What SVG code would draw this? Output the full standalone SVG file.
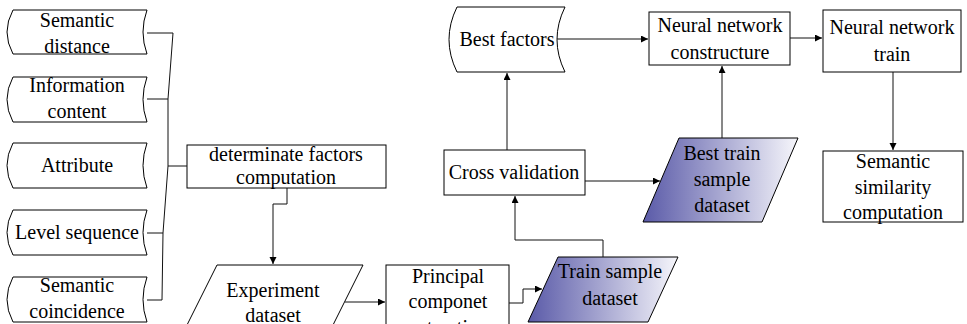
<svg xmlns="http://www.w3.org/2000/svg" width="967" height="324" viewBox="0 0 967 324">
<style>
.s{fill:#fff;stroke:#000;stroke-width:1}
.g{fill:url(#grad);stroke:#000;stroke-width:1}
.t{font-family:'Liberation Serif','Times New Roman',serif;font-size:20px;fill:#000;text-anchor:middle}
.c{fill:none;stroke:#111;stroke-width:1}
.a{fill:none;stroke:#111;stroke-width:1;marker-end:url(#arr)}
</style>
<defs>
<linearGradient id="grad" x1="0" y1="0" x2="1" y2="0">
<stop offset="0" stop-color="#5a5aa8"/>
<stop offset="1" stop-color="#f6f6fb"/>
</linearGradient>
<marker id="arr" markerUnits="userSpaceOnUse" markerWidth="8" markerHeight="8" refX="7" refY="3.5" orient="auto">
<path d="M0,0 L7,3.5 L0,7 z" fill="#000"/>
</marker>
</defs>
<rect width="967" height="324" fill="#fff"/>

<g id="semantic-distance">
<path class="s" d="M13,10 L147,10 Q139,32 147,54 L13,54 Q1,32 13,10 Z"/>
<text class="t" x="77" y="27">Semantic</text>
<text class="t" x="77" y="53">distance</text>
</g>
<g id="information-content">
<path class="s" d="M13,77 L147,77 Q139,99.5 147,122 L13,122 Q1,99.5 13,77 Z"/>
<text class="t" x="77" y="92">Information</text>
<text class="t" x="77" y="118">content</text>
</g>
<g id="attribute">
<path class="s" d="M13,143 L147,143 Q139,165.5 147,188 L13,188 Q1,165.5 13,143 Z"/>
<text class="t" x="77" y="172">Attribute</text>
</g>
<g id="level-sequence">
<path class="s" d="M13,210 L147,210 Q139,232.5 147,255 L13,255 Q1,232.5 13,210 Z"/>
<text class="t" x="77" y="239">Level sequence</text>
</g>
<g id="semantic-coincidence">
<path class="s" d="M13,277 L147,277 Q139,299.5 147,322 L13,322 Q1,299.5 13,277 Z"/>
<text class="t" x="77" y="292">Semantic</text>
<text class="t" x="77" y="318">coincidence</text>
</g>

<g id="determinate-factors">
<rect class="s" x="187" y="145" width="199" height="43"/>
<text class="t" x="286" y="161">determinate factors</text>
<text class="t" x="286" y="184">computation</text>
</g>

<g id="experiment-dataset">
<path class="s" d="M217,265 L363,265 L330,331 L184,331 Z"/>
<text class="t" x="273" y="297">Experiment</text>
<text class="t" x="273" y="322">dataset</text>
</g>

<g id="principal-componet">
<rect class="s" x="386" y="265" width="123" height="70"/>
<text class="t" x="448" y="283">Principal</text>
<text class="t" x="448" y="308">componet</text>
<text class="t" x="448" y="334">extraction</text>
</g>

<g id="train-sample-dataset">
<path class="g" d="M558,257 L678,257 L648,322 L528,322 Z"/>
<text class="t" x="610" y="278">Train sample</text>
<text class="t" x="610" y="305">dataset</text>
</g>

<g id="cross-validation">
<rect class="s" x="444" y="150" width="141" height="45"/>
<text class="t" x="514" y="179">Cross validation</text>
</g>

<g id="best-factors">
<path class="s" d="M457,7 L565,7 Q549,39.5 565,72 L457,72 Q441,39.5 457,7 Z"/>
<text class="t" x="507" y="46">Best factors</text>
</g>

<g id="best-train-sample-dataset">
<path class="g" d="M679,138 L798,138 L762,222 L643,222 Z"/>
<text class="t" x="722" y="160">Best train</text>
<text class="t" x="722" y="186">sample</text>
<text class="t" x="722" y="212">dataset</text>
</g>

<g id="nn-constructure">
<rect class="s" x="649" y="12" width="141" height="53"/>
<text class="t" x="720" y="32">Neural network</text>
<text class="t" x="720" y="59">constructure</text>
</g>

<g id="nn-train">
<rect class="s" x="823" y="10" width="138" height="62"/>
<text class="t" x="892" y="34">Neural network</text>
<text class="t" x="892" y="61">train</text>
</g>

<g id="semantic-similarity">
<rect class="s" x="823" y="151" width="140" height="71"/>
<text class="t" x="893" y="168">Semantic</text>
<text class="t" x="893" y="194">similarity</text>
<text class="t" x="893" y="219">computation</text>
</g>

<g id="connectors">
<polyline class="c" points="147,33 173,33 168,99 168,166 163,233 162,300 147,300"/>
<line class="c" x1="147" y1="99" x2="168" y2="99"/>
<line class="c" x1="147" y1="233" x2="163" y2="233"/>
<line class="c" x1="168" y1="166" x2="187" y2="166"/>
<polyline class="a" points="287,188 287,204 273,204 273,264"/>
<line class="a" x1="345" y1="302" x2="385" y2="302"/>
<polyline class="a" points="509,303 523,303 523,289 542,289"/>
<polyline class="a" points="603,257 603,240 515,240 515,196"/>
<line class="a" x1="507" y1="150" x2="507" y2="73"/>
<line class="a" x1="585" y1="181" x2="660" y2="181"/>
<line class="a" x1="722" y1="138" x2="722" y2="66"/>
<line class="a" x1="557" y1="39" x2="648" y2="39"/>
<line class="a" x1="790" y1="38" x2="822" y2="38"/>
<line class="a" x1="893" y1="72" x2="893" y2="150"/>
</g>
</svg>
